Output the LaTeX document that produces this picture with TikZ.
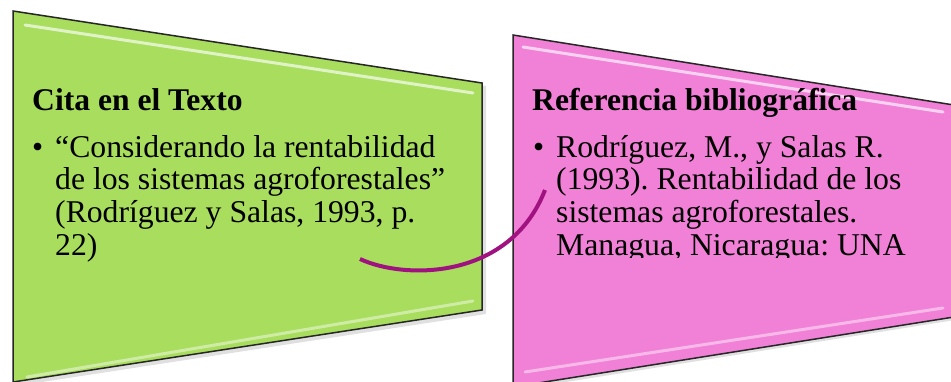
\documentclass[tikz,border=0pt]{standalone}
\usepackage{fontspec}
\setmainfont{Liberation Serif}
\frenchspacing
\definecolor{gfill}{RGB}{169,221,94}
\definecolor{pfill}{RGB}{241,128,215}
\definecolor{arc}{RGB}{160,18,128}
\begin{document}
\begin{tikzpicture}[x=1pt,y=-1pt,
  panel/.style={draw=black!85,line width=1.5pt,line join=miter},
  shine/.style={white,opacity=0.65,line width=3pt,line cap=round},
  head/.style={anchor=base west,inner sep=0pt,font=\fontsize{31.6}{32}\selectfont\bfseries},
  body/.style={anchor=base west,inner sep=0pt,align=left,font=\fontsize{31.7}{32.7}\selectfont},
  bul/.style={anchor=base west,inner sep=0pt,font=\fontsize{31.7}{32.7}\selectfont},
  link/.style={draw=arc,line width=4pt}]
\useasboundingbox (0,0) rectangle (951,381);
% green panel
\fill[black,opacity=0.12] (16,14) -- (486,86) -- (486,314) -- (16,386) -- cycle;
\path[panel,fill=gfill] (13,11) -- (482,83) -- (482,310) -- (13,382) -- cycle;
\draw[shine] (25,25) -- (473,93);
\draw[white,opacity=0.45,line width=3pt,line cap=round] (27,377) -- (473,301);
% pink panel
\fill[black,opacity=0.12] (516,38) -- (955,108) -- (955,320) -- (516,390) -- cycle;
\path[panel,fill=pfill] (513,35) -- (954,105) -- (954,317) -- (513,387) -- cycle;
\draw[shine] (523,47) -- (943,112);
\draw[white,opacity=0.45,line width=3pt,line cap=round] (525,372) -- (943,308);
% texts left
\node[head] (h1) at (32,110) {Cita en el Texto};
\node[bul] (b1) at (32,157) {•};
\node[body] (t1) at (55,255.1) {“Considerando la rentabilidad\\de los sistemas agroforestales”\\(Rodríguez y Salas, 1993, p.\\22)};
% texts right
\node[head] (h2) at (532,110) {Referencia bibliográfica};
\node[bul] (b2) at (533,157) {•};
\begin{scope}
\clip (513,120) rectangle (951,257);
\node[body] (t2) at (556,255.1) {Rodríguez, M., y Salas R.\\(1993). Rentabilidad de los\\sistemas agroforestales.\\Managua, Nicaragua: UNA};
\end{scope}
% connector
\coordinate (c1) at (360,259);
\coordinate (c2) at (545,190);
\draw[link] (c1) .. controls (405,280) and (510,280) .. (c2);
\end{tikzpicture}
\end{document}
